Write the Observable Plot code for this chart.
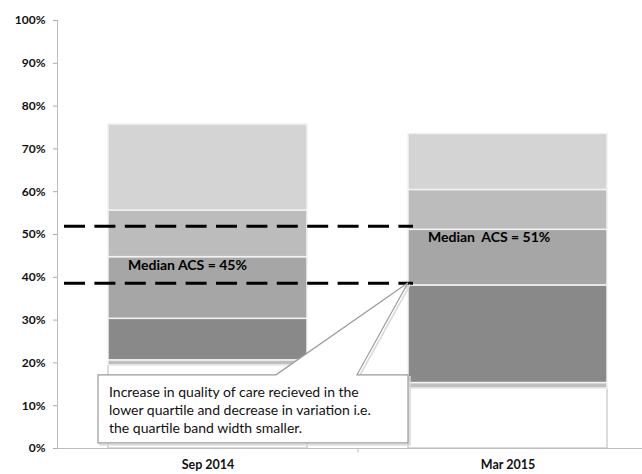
<!DOCTYPE html>
<html>
<head>
<meta charset="utf-8">
<script src="https://cdn.jsdelivr.net/npm/d3@7"></script>
<script src="https://cdn.jsdelivr.net/npm/@observablehq/plot@0.6"></script>
<style>
  html, body { margin: 0; padding: 0; background: #fff; }
  #chart svg { display: block; }
</style>
</head>
<body>
<div id="chart"></div>
<script>
// ---- data ----
const categories = ["Sep 2014", "Mar 2015"];
const segments = ["base", "lowerTail", "lowerQuartile", "lowerMid", "upperMid", "upperQuartile"];
const base          = [0.194, 0.140];   // invisible offset (minimum)
const lowerTail     = [0.012, 0.013];
const lowerQuartile = [0.097, 0.228];
const lowerMid      = [0.144, 0.130];
const upperMid      = [0.109, 0.093];
const upperQuartile = [0.201, 0.131];
const medianLines   = [0.519, 0.386];
const medianLabels  = ["Median ACS = 45%", "Median  ACS = 51%"];
const medianLabelY  = [0.427, 0.494];
const yTicks = d3.range(0, 1.0001, 0.1);
const calloutText = [
  "Increase in quality of care recieved in the",
  "lower quartile and decrease in variation i.e.",
  "the quartile band width smaller."
];
const segColors = ["#ffffff", "#bfbfbf", "#898989", "#a6a6a6", "#bcbcbc", "#d4d4d4"];

const seriesValues = [base, lowerTail, lowerQuartile, lowerMid, upperMid, upperQuartile];
const rows = [];
categories.forEach((c, i) => {
  segments.forEach((s, j) => rows.push({cat: c, seg: s, value: seriesValues[j][i]}));
});

const font = "Lato, 'Open Sans', sans-serif";

// callout (box + pointer) drawn from the scales
function callout(index, scales) {
  const x = scales.x, y = scales.y;
  const left = x("Sep 2014") - 10;
  const right = x("Mar 2015");
  const top = y(0.171), bottom = y(0.012);
  const tipX = x("Mar 2015"), tipY = y(medianLines[1]);
  const n1 = right - 132, n2 = right - 51;
  const d = `M${left},${top}L${n1},${top}L${tipX},${tipY}L${n2},${top}L${right},${top}L${right},${bottom}L${left},${bottom}Z`;
  const g = d3.create("svg:g");
  g.append("path").attr("d", d).attr("transform", "translate(2,2)")
    .attr("fill", "none").attr("stroke", "#d8d8d8").attr("stroke-width", 1.5);
  g.append("path").attr("d", d).attr("fill", "#fff").attr("stroke", "#9a9a9a").attr("stroke-width", 1.2);
  const t = g.append("text").attr("font-family", font).attr("font-size", 14)
    .attr("text-anchor", "start").attr("fill", "#111");
  calloutText.forEach((line, i) => {
    t.append("tspan").attr("x", left + 11).attr("y", top + 22 + i * 18).text(line);
  });
  return g.node();
}

const chart = Plot.plot({
  width: 642,
  height: 474,
  marginLeft: 57,
  marginRight: 0,
  marginTop: 20,
  marginBottom: 26,
  style: {fontFamily: font, background: "#fff"},
  x: {domain: categories, range: [57, 657], paddingInner: 0.337, paddingOuter: 0.1685, label: null},
  y: {domain: [0, 1], label: null},
  color: {domain: segments, range: segColors},
  marks: [
    Plot.barY(rows, {
      x: "cat", y: "value", fill: "seg",
      stroke: d => d.seg === "base" ? "#cfcfcf" : "#f2f2f2",
      strokeWidth: 1.5
    }),
    Plot.frame({anchor: "left", stroke: "#bdbdbd"}),
    Plot.frame({anchor: "bottom", stroke: "#bdbdbd"}),
    Plot.axisY({ticks: yTicks, tickFormat: d3.format(".0%"), tickSize: 4, tickPadding: 8,
      stroke: "#aaa", fill: "#111", fontSize: 12, fontWeight: "bold", label: null}),
    Plot.axisX({tickSize: 0, tickPadding: 12, fill: "#111", fontSize: 12.5, fontWeight: "bold", label: null}),
    Plot.ruleX([categories[0]], {x: d => d, dx: 150, y1: 0, y2: -0.011, stroke: "#bdbdbd"}),
    Plot.ruleY(medianLines, {stroke: "#000", strokeWidth: 3, strokeDasharray: "21,9.4", insetLeft: 7, insetRight: 229}),
    Plot.text(categories, {x: d => d, y: (d, i) => medianLabelY[i], text: (d, i) => medianLabels[i],
      dx: -80, textAnchor: "start", fontSize: 14, fontWeight: "bold", fill: "#000"}),
    callout
  ]
});
document.getElementById("chart").append(chart);
</script>
</body>
</html>
